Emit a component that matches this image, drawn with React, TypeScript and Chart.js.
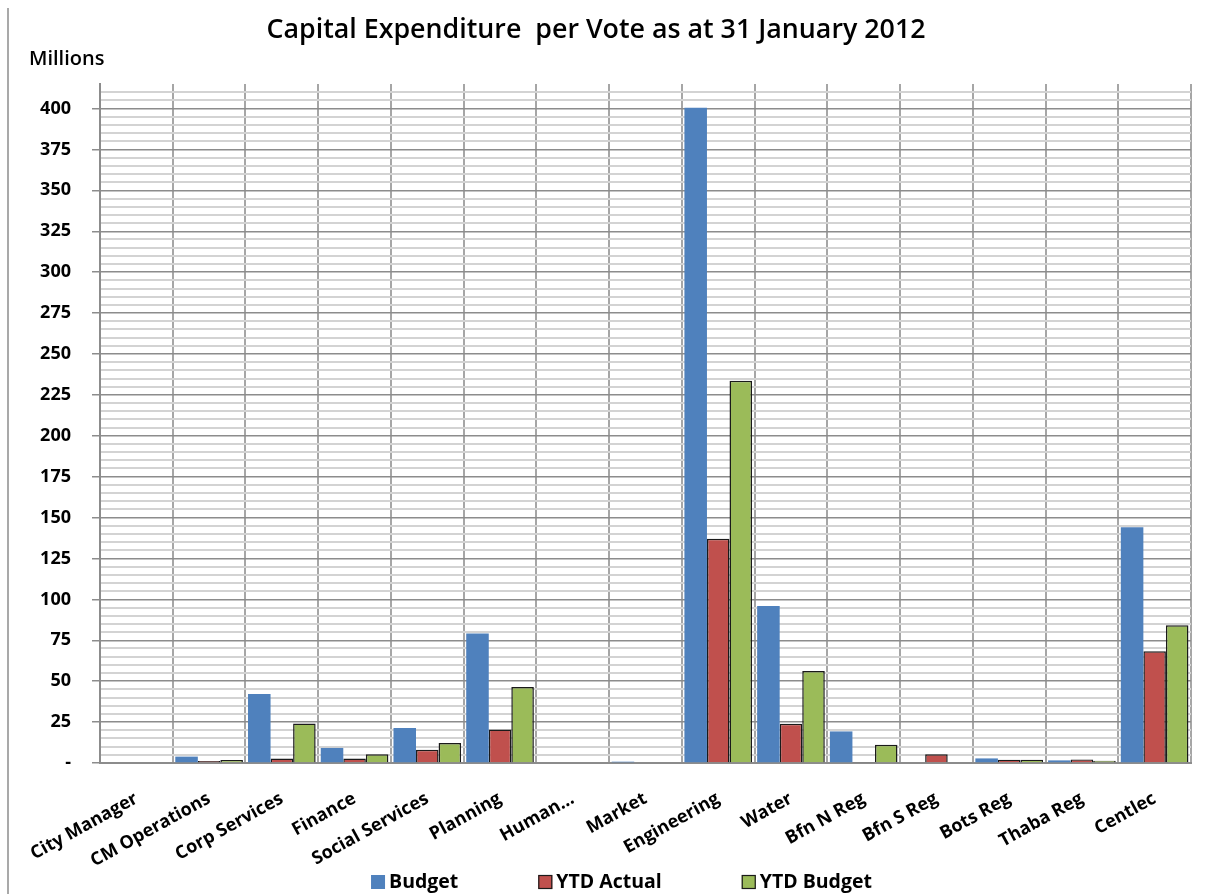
import React, { useEffect, useRef } from 'react';
import { Chart, registerables } from 'chart.js';

Chart.register(...registerables);

const categories = [
  'City Manager', 'CM Operations', 'Corp Services', 'Finance', 'Social Services',
  'Planning', 'Human...', 'Market', 'Engineering', 'Water', 'Bfn N Reg', 'Bfn S Reg',
  'Bots Reg', 'Thaba Reg', 'Centlec',
];
const budget = [0, 3.9, 42.2, 9.2, 21.4, 79.1, 0, 0.8, 400.5, 95.9, 19.3, 0, 2.8, 1.6, 144.1];
const ytdActual = [0, 1.2, 2.8, 2.8, 8.1, 20.4, 0, 0, 137.1, 24, 0.6, 5.3, 2.0, 2.2, 68.3];
const ytdBudget = [0, 1.8, 24.2, 5.3, 12.2, 46.5, 0, 0.5, 233.7, 56.3, 11.2, 0, 2.0, 1.4, 84.2];

const seriesNames = ['Budget', 'YTD Actual', 'YTD Budget'];
const seriesColors = ['#4F81BD', '#C0504D', '#9BBB59'];

const chartTitle = 'Capital Expenditure  per Vote as at 31 January 2012';
const unitLabel = 'Millions';

const Y_MAX = 415;
const Y_MINOR_STEP = 5;
const Y_MAJOR_STEP = 25;

const FONT = "'Open Sans', 'DejaVu Sans', sans-serif";

const decorPlugin = {
  id: 'decor',
  afterDraw(chart: any) {
    const ctx = chart.ctx as CanvasRenderingContext2D;
    ctx.save();
    // outer border
    ctx.strokeStyle = '#8c8c8c';
    ctx.lineWidth = 1.5;
    ctx.beginPath();
    ctx.moveTo(8, 894);
    ctx.lineTo(8, 8);
    ctx.stroke();

    // title
    ctx.fillStyle = '#000';
    ctx.font = `600 26.8px ${FONT}`;
    ctx.textAlign = 'center';
    ctx.textBaseline = 'middle';
    ctx.fillText(chartTitle, 596, 30);

    // unit label
    ctx.font = `600 20px ${FONT}`;
    ctx.textAlign = 'left';
    ctx.fillText(unitLabel, 29, 59);

    // legend
    ctx.font = `bold 19.5px ${FONT}`;
    const box = 14;
    const gapText = 4;
    const spacing = 80;
    const widths = chart.data.datasets.map((d: any) => box + gapText + ctx.measureText(d.label).width);
    const total = widths.reduce((a: number, b: number) => a + b, 0) + spacing * (widths.length - 1);
    let x = 621.5 - total / 2;
    const cy = 882;
    chart.data.datasets.forEach((d: any, i: number) => {
      ctx.fillStyle = d.backgroundColor;
      ctx.fillRect(x, cy - box / 2, box, box);
      if (d.borderWidth) {
        ctx.strokeStyle = '#1a1a1a';
        ctx.lineWidth = 1.2;
        ctx.strokeRect(x + 0.5, cy - box / 2 + 0.5, box - 1, box - 1);
      }
      ctx.fillStyle = '#000';
      ctx.textAlign = 'left';
      ctx.textBaseline = 'middle';
      ctx.fillText(d.label, x + box + gapText, cy);
      x += widths[i] + spacing;
    });
    ctx.restore();
  },
};

export default function App() {
  const ref = useRef<HTMLCanvasElement>(null);

  useEffect(() => {
    document.body.style.margin = '0';
    const canvas = ref.current!;
    const chart = new Chart(canvas, {
      type: 'bar',
      data: {
        labels: categories,
        datasets: [
          {
            label: seriesNames[0], data: budget, backgroundColor: seriesColors[0],
            borderWidth: 0, categoryPercentage: 0.93, barPercentage: 1,
          },
          {
            label: seriesNames[1], data: ytdActual, backgroundColor: seriesColors[1],
            borderColor: '#1a1a1a', borderWidth: 1.5, categoryPercentage: 0.93, barPercentage: 1,
          },
          {
            label: seriesNames[2], data: ytdBudget, backgroundColor: seriesColors[2],
            borderColor: '#1a1a1a', borderWidth: 1.5, categoryPercentage: 0.93, barPercentage: 1,
          },
        ] as any,
      },
      options: {
        responsive: false,
        animation: false,
        layout: { padding: { top: 84, right: 23, left: 0, bottom: 0 } },
        plugins: {
          legend: { display: false },
          tooltip: { enabled: false },
          title: { display: false },
        },
        scales: {
          x: {
            grid: { color: '#a6a6a6', lineWidth: 2, drawTicks: false, offset: true },
            border: { color: '#8c8c8c', width: 2 },
            ticks: {
              color: '#000',
              font: { family: FONT, weight: 'bold', size: 18 },
              minRotation: 29,
              maxRotation: 29,
              padding: 25,
              autoSkip: false,
            },
            afterFit: (s: any) => { s.height = 131; },
          },
          y: {
            min: 0,
            max: Y_MAX,
            afterBuildTicks: (s: any) => {
              const t: any[] = [];
              for (let v = 0; v <= Y_MAX; v += Y_MINOR_STEP) t.push({ value: v });
              s.ticks = t;
            },
            ticks: {
              color: '#000',
              font: { family: FONT, weight: 'bold', size: 18 },
              padding: 21,
              autoSkip: false,
              callback: (v: any) => (v % Y_MAJOR_STEP === 0 ? (v === 0 ? '-' : String(v)) : ''),
            },
            grid: {
              color: (c: any) => {
                const v = c.tick?.value;
                if (v === Y_MAX) return 'rgba(0,0,0,0)';
                return v % Y_MAJOR_STEP === 0 ? '#8c8c8c' : '#d3d3d3';
              },
              lineWidth: (c: any) => (c.tick?.value % Y_MAJOR_STEP === 0 ? 1.5 : 2),
              tickColor: (c: any) => (c.tick?.value % Y_MAJOR_STEP === 0 && c.tick?.value !== Y_MAX ? '#8c8c8c' : 'rgba(0,0,0,0)'),
              tickLength: 8,
            },
            border: { color: '#8c8c8c', width: 2 },
            afterFit: (s: any) => { s.width = 100; },
          },
        },
      } as any,
      plugins: [decorPlugin],
    });
    return () => chart.destroy();
  }, []);

  return <canvas ref={ref} width={1214} height={894} style={{ display: 'block' }} />;
}
